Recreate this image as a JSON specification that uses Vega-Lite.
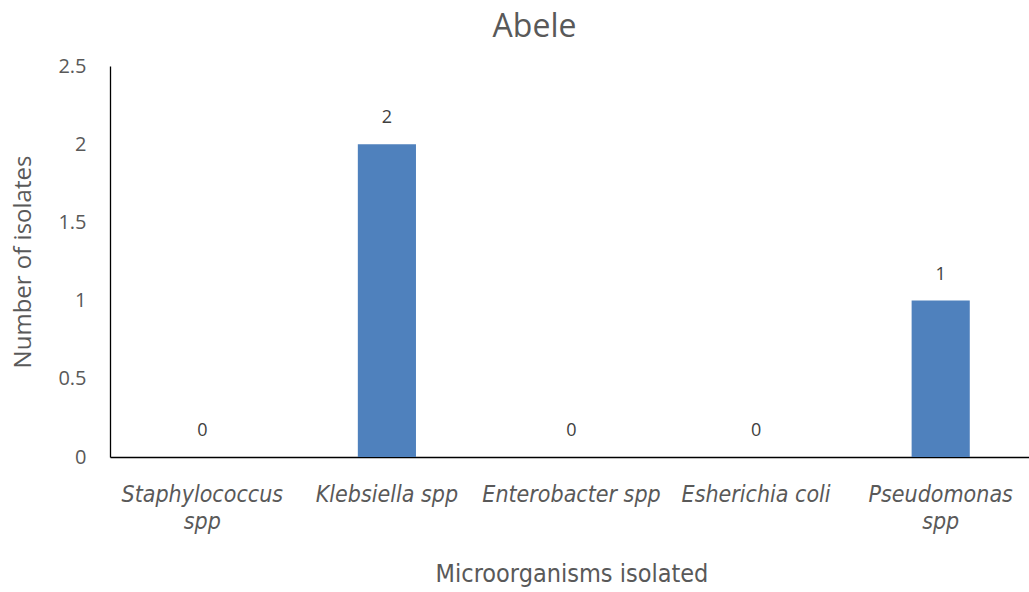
{
  "$schema": "https://vega.github.io/schema/vega-lite/v6.json",
  "width": 923,
  "height": 391,
  "autosize": {"type": "none"},
  "padding": {"left": 110, "top": 66, "right": 0, "bottom": 135},
  "background": "white",
  "title": {
    "text": "Abele",
    "fontSize": 32,
    "font": "Open Sans",
    "fontWeight": "normal",
    "color": "#595959",
    "anchor": "middle",
    "dx": -37,
    "offset": 12
  },
  "data": {
    "values": [
      {"organism": "Staphylococcus spp", "count": 0},
      {"organism": "Klebsiella spp", "count": 2},
      {"organism": "Enterobacter spp", "count": 0},
      {"organism": "Esherichia coli", "count": 0},
      {"organism": "Pseudomonas spp", "count": 1}
    ]
  },
  "config": {
    "view": {"stroke": null},
    "axis": {"grid": false, "ticks": false, "domainColor": "#000000", "domainWidth": 1.3}
  },
  "encoding": {
    "x": {
      "field": "organism",
      "type": "nominal",
      "sort": null,
      "scale": {"paddingInner": 0.685, "paddingOuter": 0.3425},
      "axis": {
        "title": "Microorganisms isolated",
        "titleFont": "Liberation Sans Narrow, DejaVu Sans Condensed, Arial Narrow, Liberation Sans, sans-serif",
        "titleFontSize": 25,
        "titleFontWeight": "normal",
        "titleColor": "#595959",
        "titlePadding": 28,
        "labelAngle": 0,
        "labelFont": "Liberation Sans Narrow, DejaVu Sans Condensed, Arial Narrow, Liberation Sans, sans-serif",
        "labelFontStyle": "italic",
        "labelFontSize": 23,
        "labelColor": "#595959",
        "labelPadding": 26,
        "labelLineHeight": 27,
        "labelLimit": 300,
        "labelExpr": "datum.value == 'Staphylococcus spp' ? ['Staphylococcus', 'spp'] : datum.value == 'Pseudomonas spp' ? ['Pseudomonas', 'spp'] : datum.value"
      }
    },
    "y": {
      "field": "count",
      "type": "quantitative",
      "scale": {"domain": [0, 2.5]},
      "axis": {
        "title": "Number of isolates",
        "titleFont": "Open Sans",
        "titleFontSize": 24,
        "titleFontWeight": "normal",
        "titleColor": "#595959",
        "titlePadding": 22,
        "values": [0, 0.5, 1, 1.5, 2, 2.5],
        "format": "~g",
        "labelFont": "Open Sans",
        "labelFontSize": 20,
        "labelColor": "#595959",
        "labelPadding": 24
      }
    }
  },
  "layer": [
    {"mark": {"type": "bar", "color": "#4F81BD"}},
    {
      "mark": {"type": "text", "dy": -17, "baseline": "bottom", "font": "Open Sans", "fontSize": 18, "color": "#404040"},
      "encoding": {"text": {"field": "count", "type": "quantitative"}}
    }
  ]
}
